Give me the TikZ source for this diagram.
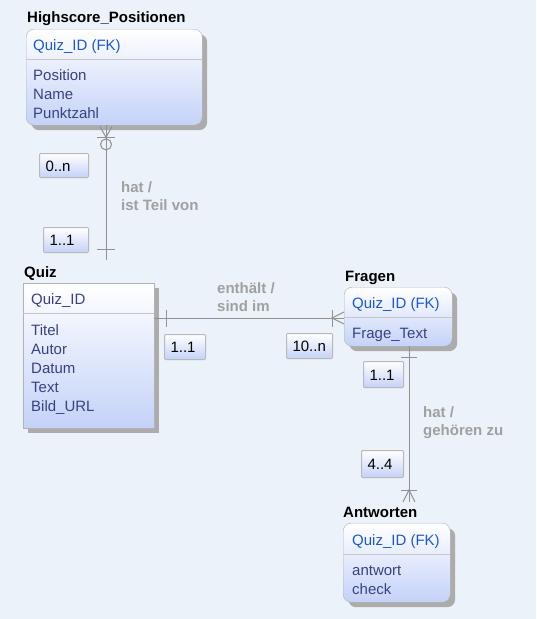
\documentclass[tikz,border=0pt]{standalone}
\usepackage{fontspec}
\setmainfont{Liberation Sans}
\usetikzlibrary{shadows}

\definecolor{bgblue}{RGB}{236,242,249}
\definecolor{boxlow}{RGB}{196,210,248}
\definecolor{fkblue}{RGB}{26,88,204}
\definecolor{attrblue}{RGB}{56,66,130}
\definecolor{relgray}{RGB}{145,145,145}
\definecolor{labgray}{RGB}{160,160,160}

\begin{document}
\begin{tikzpicture}[x=1pt,y=-1pt,font=\fontsize{15}{18}\selectfont,
  entity/.style={draw=gray!60,top color=white,bottom color=boxlow,anchor=north west,inner sep=0pt,
    drop shadow={shadow xshift=5pt,shadow yshift=-5pt,fill=gray!65,opacity=1}},
  title/.style={anchor=base west,inner sep=0pt,font=\fontsize{15}{18}\selectfont\bfseries},
  fk/.style={anchor=base west,inner sep=0pt,text=fkblue},
  attr/.style={anchor=base west,inner sep=0pt,text=attrblue},
  card/.style={draw=gray!55,line width=1pt,rounded corners=1pt,top color=white,bottom color=boxlow,
    anchor=north west,inner xsep=6pt,inner ysep=0pt,text height=11pt,text depth=0pt,align=left},
  relname/.style={anchor=north west,inner sep=0pt,align=left,text=labgray,font=\fontsize{15}{18}\selectfont\bfseries},
  rel/.style={draw=relgray,line width=1pt}]

  \fill[bgblue] (0,0) rectangle (536,619);
  \useasboundingbox (0,0) rectangle (536,619);

  % Highscore_Positionen
  \node[entity,rounded corners=8pt,minimum width=176,minimum height=96] (hs) at (26,29) {};
  \draw[gray!45] (26,59) -- (202,59);
  \node[title] (hsT) at (27,22) {Highscore\_Positionen};
  \node[fk] (hsK) at (33,50) {Quiz\_ID (FK)};
  \foreach \a [count=\i] in {Position,Name,Punktzahl}
    \node[attr] (hs\i) at (33,62+18.7*\i) {\a};

  % Quiz
  \node[entity,minimum width=131,minimum height=145] (quiz) at (23,283) {};
  \draw[gray!45] (23,313) -- (154,313);
  \node[title] (quizT) at (24,277) {Quiz};
  \node[attr] (quizK) at (31,304) {Quiz\_ID};
  \foreach \a [count=\i] in {Titel,Autor,Datum,Text,{Bild\_URL}}
    \node[attr] (quiz\i) at (31,316+19*\i) {\a};

  % Fragen
  \node[entity,rounded corners=8pt,minimum width=108,minimum height=59] (fr) at (344,287) {};
  \draw[gray!45] (344,317) -- (452,317);
  \node[title] (frT) at (345,281) {Fragen};
  \node[fk] (frK) at (352,308) {Quiz\_ID (FK)};
  \node[attr] (fr1) at (352,338) {Frage\_Text};

  % Antworten
  \node[entity,rounded corners=8pt,minimum width=107,minimum height=79] (an) at (343,523) {};
  \draw[gray!45] (343,554) -- (450,554);
  \node[title] (anT) at (343,517) {Antworten};
  \node[fk] (anK) at (352,545) {Quiz\_ID (FK)};
  \foreach \a [count=\i] in {antwort,check}
    \node[attr] (an\i) at (352,556+19*\i) {\a};

  % connector ends
  \coordinate (hx) at (106,0);
  \coordinate (qf) at (0,318);
  \coordinate (fx) at (409,0);
  \coordinate (h1) at (hs.south -| hx);
  \coordinate (qTop) at (106,260);
  \coordinate (q1) at (quiz.east |- qf);
  \coordinate (f2) at (fr.west |- qf);
  \coordinate (a1) at (fr.south -| fx);
  \coordinate (a2) at (409,502);

  % hat / ist Teil von
  \draw[rel] (h1) -- (qTop);
  \draw[rel] (h1) ++(-6,1) -- ++(6,11) -- ++(6,-11);
  \draw[rel] (h1) ++(-9,12) -- ++(18,0);
  \draw[rel] (h1) ++(0,19) circle[radius=5.5pt];
  \draw[rel] (qTop) ++(-9,-11) -- ++(18,0);
  \node[card,text width=37pt,minimum height=24] (c0n) at (39,153) {0..n};
  \node[card,text width=33pt,minimum height=25] (c11a) at (43,227) {1..1};
  \node[relname] (r1) at (121,181) {hat /\\ist Teil von};

  % enthaelt / sind im
  \draw[rel] (q1) -- (f2);
  \draw[rel] (q1) ++(12,-8) -- ++(0,17);
  \draw[rel] (f2) ++(0,-6) -- ++(-12,6) -- ++(12,6);
  \draw[rel] (f2) ++(-12,-8) -- ++(0,17);
  \node[card,text width=29pt,minimum height=25] (c11b) at (164,334) {1..1};
  \node[card,text width=34pt,minimum height=25] (c10n) at (286,333) {10..n};
  \node[relname] (r2) at (217,282) {enth\"alt /\\sind im};

  % hat / gehoeren zu
  \draw[rel] (a1) -- (a2);
  \draw[rel] (a1) ++(-8,11) -- ++(16,0);
  \draw[rel] (a2) ++(-6,0) -- ++(6,-12) -- ++(6,12);
  \draw[rel] (a2) ++(-8,-12) -- ++(16,0);
  \node[card,text width=28pt,minimum height=26] (c11c) at (363,361) {1..1};
  \node[card,text width=30pt,minimum height=27] (c44) at (361,450) {4..4};
  \node[relname] (r3) at (423,406) {hat /\\geh\"oren zu};
\end{tikzpicture}
\end{document}
